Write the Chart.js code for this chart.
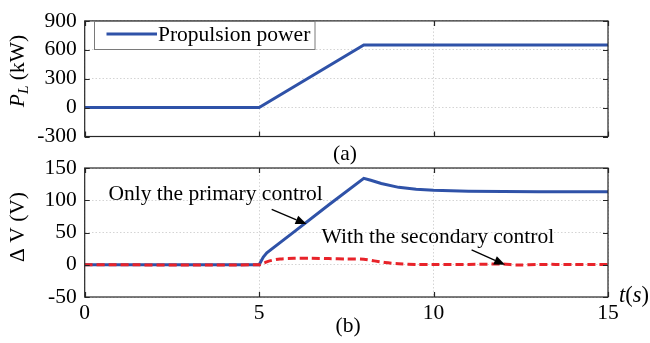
<!DOCTYPE html>
<html>
<head>
<meta charset="utf-8">
<script src="https://cdn.jsdelivr.net/npm/chart.js@4.4.0/dist/chart.umd.min.js"></script>
<style>
  html, body { margin: 0; padding: 0; background: #fff; }
  #wrap { position: relative; width: 650px; height: 343px; }
  #wrap canvas { position: absolute; left: 0; top: 0; }
</style>
</head>
<body>
<div id="wrap">
  <canvas id="powerChart" width="650" height="343"></canvas>
  <canvas id="voltageChart" width="650" height="343"></canvas>
</div>
<script>
// (a) propulsion power, kW
const powerTime = [0, 5, 8, 15];
const powerKW   = [0, 0, 650, 650];

// (b) DC voltage deviation, V
const primaryTime = [0, 5, 5.05, 5.12, 5.22, 6, 7, 8, 8.2, 8.5, 9, 9.5, 10, 11, 12, 13, 15];
const primaryDV   = [0, 0, 5, 12, 18.5, 51, 93, 134, 131, 126, 120, 117, 115.5, 114, 113.5, 113, 113];

const secondaryTime = [0, 5, 5.15, 5.3, 5.6, 6, 6.5, 7, 7.5, 8, 8.3, 8.6, 9, 9.5, 10, 11, 12, 12.4, 13, 14, 15];
const secondaryDV   = [0, 0, 3, 6, 9, 10, 10, 9.5, 9, 8.5, 6, 3.5, 1.5, 0.5, 0.5, 0.5, 1, -0.5, 0.5, 0.5, 0.5];

// tick labels
const timeTicks    = [0, 5, 10, 15];
const powerTicks   = [-300, 0, 300, 600, 900];
const voltageTicks = [-50, 0, 50, 100, 150];

const SERIF = "'Liberation Serif', 'Times New Roman', serif";
const FS = 21.5;
const BLUE = '#2f52a8';
const RED = '#e8232a';

const toPoints = (xs, ys) => xs.map((x, i) => ({ x, y: ys[i] }));
const fixedTicks = values => scale => { scale.ticks = values.map(v => ({ value: v })); };

// Box around the plot area with inward tick marks on all four sides
const framePlugin = {
  id: 'frame',
  afterDraw(chart) {
    const { ctx, chartArea: a, scales: { x, y } } = chart;
    const L = 5;
    ctx.save();
    ctx.strokeStyle = '#262626';
    ctx.lineWidth = 1.2;
    ctx.beginPath();
    x.ticks.forEach(t => {
      const px = Math.round(x.getPixelForValue(t.value)) + 0.5;
      ctx.moveTo(px, a.bottom); ctx.lineTo(px, a.bottom - L);
      ctx.moveTo(px, a.top); ctx.lineTo(px, a.top + L);
    });
    y.ticks.forEach(t => {
      const py = Math.round(y.getPixelForValue(t.value)) + 0.5;
      ctx.moveTo(a.left, py); ctx.lineTo(a.left + L, py);
      ctx.moveTo(a.right, py); ctx.lineTo(a.right - L, py);
    });
    ctx.stroke();
    ctx.strokeRect(a.left, a.top, a.right - a.left, a.bottom - a.top);
    ctx.restore();
  }
};

// Draw a run of text pieces (each with its own font / vertical shift) centred on a point, optionally rotated
function drawRich(ctx, pieces, cx, cy, rotate) {
  ctx.save();
  ctx.translate(cx, cy);
  if (rotate) ctx.rotate(-Math.PI / 2);
  let total = 0;
  pieces.forEach(p => { ctx.font = p.font; total += ctx.measureText(p.text).width; });
  let x = -total / 2;
  ctx.fillStyle = '#000';
  ctx.textBaseline = 'middle';
  pieces.forEach(p => {
    ctx.font = p.font;
    ctx.fillText(p.text, x, p.dy || 0);
    x += ctx.measureText(p.text).width;
  });
  ctx.restore();
}

function arrow(ctx, x1, y1, x2, y2) {
  const ang = Math.atan2(y2 - y1, x2 - x1);
  const len = 11, half = 4.5;
  ctx.save();
  ctx.strokeStyle = '#000';
  ctx.fillStyle = '#000';
  ctx.lineWidth = 1.3;
  ctx.beginPath();
  ctx.moveTo(x1, y1);
  ctx.lineTo(x2 - len * Math.cos(ang), y2 - len * Math.sin(ang));
  ctx.stroke();
  ctx.beginPath();
  ctx.moveTo(x2, y2);
  ctx.lineTo(x2 - len * Math.cos(ang) + half * Math.sin(ang), y2 - len * Math.sin(ang) - half * Math.cos(ang));
  ctx.lineTo(x2 - len * Math.cos(ang) - half * Math.sin(ang), y2 - len * Math.sin(ang) + half * Math.cos(ang));
  ctx.closePath();
  ctx.fill();
  ctx.restore();
}

const gridStyle = { color: '#d4d4d4', lineWidth: 1, drawTicks: false };
const borderStyle = { display: false, dash: [1.5, 2] };
const tickFont = { family: SERIF, size: FS };

function baseOptions(padTop, padBottom, yTicks, yMin, yMax, showX) {
  return {
    responsive: false,
    devicePixelRatio: 1,
    animation: false,
    events: [],
    layout: { padding: { top: padTop, bottom: padBottom, left: 0, right: 42 } },
    plugins: { legend: { display: false }, tooltip: { enabled: false } },
    elements: { point: { radius: 0 } },
    scales: {
      x: {
        type: 'linear', min: 0, max: 15,
        afterBuildTicks: fixedTicks(timeTicks),
        afterFit: s => { s.height = showX ? 46 : 0; },
        grid: gridStyle, border: borderStyle,
        ticks: { display: showX, font: tickFont, color: '#000', padding: 3, maxRotation: 0 }
      },
      y: {
        type: 'linear', min: yMin, max: yMax,
        afterBuildTicks: fixedTicks(yTicks),
        afterFit: s => { s.width = 84.7; },
        grid: gridStyle, border: borderStyle,
        ticks: { font: tickFont, color: '#000', padding: 8 }
      }
    }
  };
}

// ---- (a) propulsion power ----
const powerDecor = {
  id: 'powerDecor',
  afterDraw(chart) {
    const { ctx, chartArea: a } = chart;
    // y-axis title  P_L (kW)
    drawRich(ctx, [
      { text: 'P', font: `italic ${FS}px ${SERIF}` },
      { text: 'L', font: `italic ${FS * 0.72}px ${SERIF}`, dy: 6 },
      { text: ' (kW)', font: `${FS}px ${SERIF}` }
    ], 18, 71, true);
    // legend
    ctx.save();
    ctx.fillStyle = '#fff';
    ctx.fillRect(94.5, 21.5, 220.5, 28);
    ctx.strokeStyle = '#7a7a7a';
    ctx.lineWidth = 1;
    ctx.strokeRect(94.5, 21.5, 220.5, 28);
    ctx.strokeStyle = BLUE;
    ctx.lineWidth = 3;
    ctx.beginPath(); ctx.moveTo(106.5, 34); ctx.lineTo(157, 34); ctx.stroke();
    ctx.fillStyle = '#000';
    ctx.font = `${FS}px ${SERIF}`;
    ctx.textBaseline = 'alphabetic';
    ctx.fillText('Propulsion power', 158, 41);
    // panel label
    ctx.textAlign = 'center';
    ctx.fillText('(a)', 345, 160);
    ctx.restore();
  }
};

new Chart(document.getElementById('powerChart'), {
  type: 'line',
  data: {
    datasets: [{
      label: 'Propulsion power',
      data: toPoints(powerTime, powerKW),
      borderColor: BLUE, borderWidth: 3, tension: 0
    }]
  },
  options: baseOptions(11, 343 - 136.5, powerTicks, -300, 900, false),
  plugins: [framePlugin, powerDecor]
});

// ---- (b) voltage deviation ----
const voltageDecor = {
  id: 'voltageDecor',
  afterDraw(chart) {
    const { ctx, scales: { x, y } } = chart;
    const X = v => x.getPixelForValue(v), Y = v => y.getPixelForValue(v);
    drawRich(ctx, [
      { text: '\u0394 V (V)', font: `${FS}px ${SERIF}` }
    ], 18, 227, true);
    ctx.save();
    ctx.fillStyle = '#000';
    ctx.font = `${FS}px ${SERIF}`;
    ctx.textBaseline = 'alphabetic';
    ctx.fillText('Only the primary control', X(0.68), Y(101));
    ctx.fillText('With the secondary control', X(6.79), Y(33));
    ctx.textAlign = 'center';
    ctx.fillText('(b)', 348, 332);
    ctx.restore();
    arrow(ctx, X(5.36), Y(86), X(6.36), Y(63));
    arrow(ctx, X(11.09), Y(23), X(12.05), Y(0));
    // x-axis title  t(s)
    drawRich(ctx, [
      { text: 't', font: `italic ${FS + 1}px ${SERIF}` },
      { text: '(', font: `${FS + 1}px ${SERIF}` },
      { text: 's', font: `italic ${FS + 1}px ${SERIF}` },
      { text: ')', font: `${FS + 1}px ${SERIF}` }
    ], 634, 296, false);
  }
};

new Chart(document.getElementById('voltageChart'), {
  type: 'line',
  data: {
    datasets: [
      {
        label: 'With the secondary control',
        data: toPoints(secondaryTime, secondaryDV),
        borderColor: RED, borderWidth: 3, borderDash: [8, 4], tension: 0.3, order: 0
      },
      {
        label: 'Only the primary control',
        data: toPoints(primaryTime, primaryDV),
        borderColor: BLUE, borderWidth: 3, tension: 0, order: 1
      }
    ]
  },
  options: baseOptions(168, 0, voltageTicks, -50, 150, true),
  plugins: [framePlugin, voltageDecor]
});
</script>
</body>
</html>
